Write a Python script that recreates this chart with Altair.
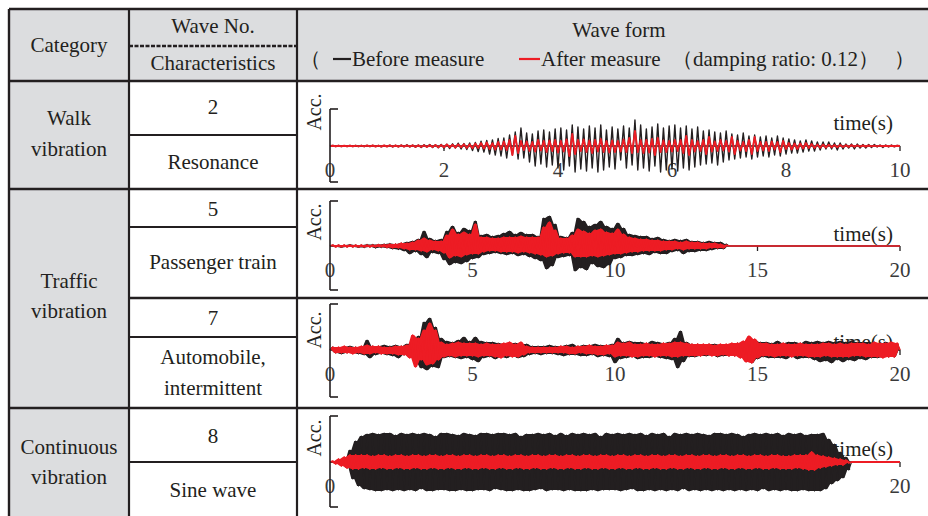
import altair as alt
import pandas as pd

# ---------------- data ----------------
header_texts = ["Category", "Wave No.", "Characteristics", "Wave form"]
legend_parts = ["（", "Before measure", "After measure", "（damping ratio: 0.12）", "）"]
series_names = ["Before measure", "After measure"]
categories = [["Walk", "vibration"], ["Traffic", "vibration"], ["Continuous", "vibration"]]
wave_numbers = ["2", "5", "7", "8"]
characteristics = [["Resonance"], ["Passenger train"], ["Automobile,", "intermittent"], ["Sine wave"]]
axis_label = "Acc."
time_label = "time(s)"

walk_ticks = [0, 2, 4, 6, 8, 10]
train_ticks = [0, 5, 10, 15, 20]
auto_ticks = [0, 5, 10, 15, 20]
sine_ticks = [0, 20]

# wave 2 (walk), samples every 0.05 s, 0-10 s (relative acceleration)
walk_dt = 0.05
walk_black = [
    0, 0.5, -0.5, 0.5, -0.6, 0.4, -0.5, 0.6, -0.5, 0.5,
    -0.6, 0.5, -0.7, 0.6, -0.5, 0.7, -0.6, 0.5, -0.8, 0.6,
    -0.7, 0.8, -1.0, 0.7, -0.9, 1.0, -0.8, 1.2, -1.0, 0.9,
    -1.2, 1.0, -1.4, 1.3, -1.1, 1.5, -1.6, 1.2, -1.8, 1.6,
    -2.0, 1.8, -2.5, 2.2, -2.0, 2.8, -3.0, 2.5, -3.5, 3.0,
    -4.5, 3.5, -5.5, 4.8, -6.0, 5.5, -8.0, 6.0, -9.0, 7.5,
    -10, 8, -12, 11, -9, 14, -13, 18, -12, 13,
    -16, 12, -20, 15, -18, 16, -21, 14, -19, 17,
    -22, 18, -24, 16, -20, 21, -26, 19, -23, 17,
    -25, 20, -22, 18, -26, 21, -24, 16, -21, 19,
    -23, 17, -14, 20, -22, 18, -19, 26, -24, 21,
    -22, 17, -25, 19, -20, 22, -26, 18, -24, 20,
    -23, 21, -25, 18, -22, 20, -24, 17, -21, 19,
    -19, 15, -18, 16, -17, 14, -19, 13, -16, 15,
    -14, 12, -13, 11, -12, 13, -11, 10, -13, 11,
    -11, 9, -10, 10, -11, 8, -9, 10, -10, 8,
    -8, 7, -7, 6, -7, 5, -6, 6, -5, 5,
    -5, 4, -4, 4, -3, 4, -3, 3, -4, 3,
    -3, 2, -2, 2, -3, 2, -2, 1.5, -2, 1.5,
    -1.5, 1.5, -1, 1, -1.5, 1, -1, 1, -0.8, 0.5,
    0,
]
walk_red = [
    0, 0.3, -0.3, 0.3, -0.3, 0.3, -0.3, 0.3, -0.3, 0.3,
    -0.4, 0.4, -0.4, 0.5, -0.4, 0.5, -0.5, 0.4, -0.5, 0.5,
    -0.5, 0.6, -0.6, 0.5, -0.7, 0.6, -0.6, 0.7, -0.6, 0.7,
    -0.8, 0.7, -0.9, 0.8, -1.0, 0.9, -1.0, 1.0, -1.2, 1.0,
    -1.2, 1.5, -1.3, 1.2, -1.5, 1.6, -1.4, 1.8, -2.0, 1.6,
    -2.2, 2.5, -2.0, 3.0, -2.6, 3.5, -3.0, 2.8, -3.5, 4.0,
    -3.5, 4.5, -4.0, 6.0, -9.0, 10, -7.0, 5.0, -4.0, 4.5,
    -5.0, 4.0, -5.5, 6.0, -4.5, 5.0, -6.0, 5.5, -5.0, 6.0,
    -6.5, 5.0, -5.5, 6.5, -10, 12, -8.0, 6.0, -5.0, 6.5,
    -6.0, 5.5, -7.0, 6.0, -5.5, 7.0, -6.0, 5.0, -6.5, 5.5,
    -6.0, 5.0, -5.5, 6.5, -6.0, 8.0, -7.0, 15, -6.0, 6.0,
    -7.0, 6.0, -6.5, 7.0, -9.0, 8.0, -6.0, 5.5, -6.0, 5.0,
    -5.5, 6.0, -5.0, 6.0, -7.0, 10, -9.0, 6.0, -5.5, 5.0,
    -5.0, 6.0, -8.0, 9.0, -5.5, 4.5, -5.0, 6.0, -4.5, 5.0,
    -5.5, 9.0, -8.0, 5.0, -4.5, 4.0, -5.0, 6.0, -8.0, 9.0,
    -5.0, 4.0, -4.5, 4.0, -5.0, 4.5, -3.5, 4.0, -6.0, 5.0,
    -3.0, 3.0, -3.5, 2.5, -3.0, 2.5, -2.5, 3.0, -2.0, 2.0,
    -2.0, 1.5, -1.8, 1.5, -1.5, 1.2, -1.3, 1.0, -1.2, 1.0,
    -1.0, 0.8, -0.8, 0.8, -0.7, 0.6, -0.6, 0.5, -0.5, 0.5,
    -0.4, 0.4, -0.4, 0.3, -0.3, 0.3, -0.3, 0.2, -0.2, 0.2,
    0,
]

# wave 5 (passenger train), samples every 0.1 s, 0-14 s
train_dt = 0.1
train_black = [
    0, 1, -1, 1, -1.5, 1, -1, 1.5, -1, 1,
    -1.5, 1, -1.5, 1.5, -1, 1.5, -2, 1.5, -1.5, 2,
    -2, 2.5, -3, 2, -3.5, 3, -5, 4, -8, 5,
    -6, 7, -9, 15, -12, 8, -7, 6, -8, 7,
    -14, 15, -19, 20, -17, 14, -18, 18, -16, 16,
    -13, 25, -12, 11, -9, 12, -8, 10, -7, 11,
    -8, 13, -9, 15, -8, 12, -10, 14, -9, 12,
    -11, 12, -13, 10, -15, 28, -23, 30, -20, 22,
    -12, 10, -11, 9, -10, 14, -25, 28, -22, 25,
    -24, 20, -18, 22, -21, 25, -22, 20, -19, 18,
    -13, 23, -12, 18, -10, 12, -10, 11, -9, 10,
    -8, 10, -9, 8, -7, 9, -8, 7, -8, 6,
    -6, 7, -5, 6, -8, 7, -6, 5, -6, 5,
    -5, 4, -5, 5, -4, 4, -3, 4, -3, 2,
    0,
]
train_red = [
    0, 1, -1, 1, -1, 1, -1, 1, -1, 1,
    -1, 1, -1, 1, -1, 1, -1, 1.5, -1, 1.5,
    -1.5, 2, -2, 2, -2, 3, -3, 3, -4, 4,
    -4, 6, -5, 8, -6, 6, -4, 5, -5, 5,
    -7, 11, -12, 17, -10, 12, -11, 14, -9, 12,
    -8, 22, -8, 9, -6, 9, -5, 8, -5, 8,
    -6, 9, -6, 9, -6, 9, -7, 10, -6, 9,
    -7, 9, -8, 9, -9, 19, -11, 24, -10, 16,
    -8, 8, -7, 8, -7, 11, -11, 17, -11, 15,
    -11, 13, -10, 16, -11, 17, -10, 14, -9, 13,
    -8, 17, -8, 12, -7, 9, -6, 8, -6, 7,
    -5, 7, -5, 6, -5, 6, -5, 5, -4, 5,
    -4, 5, -3, 4, -4, 5, -3, 4, -3, 4,
    -3, 3, -3, 3, -2, 3, -2, 2, -2, 1,
    0,
]

# wave 7 (automobile, intermittent), samples every 0.1 s, 0-20 s
auto_dt = 0.1
auto_black = [
    0, 3, -3, 2, -4, 3, -3, 4, -3, 3,
    -4, 3, -5, 10, -8, 4, -5, 4, -4, 5,
    -5, 4, -6, 5, -8, 4, -5, 6, -7, 8,
    -12, 14, -18, 28, -20, 32, -17, 23, -18, 12,
    -8, 9, -7, 8, -8, 10, -9, 13, -8, 9,
    -10, 13, -12, 9, -8, 8, -7, 8, -9, 7,
    -7, 6, -8, 7, -6, 7, -8, 6, -7, 6,
    -5, 4, -4, 4, -5, 4, -4, 5, -4, 4,
    -5, 4, -6, 5, -5, 6, -5, 4, -6, 5,
    -6, 5, -5, 6, -7, 5, -6, 5, -7, 6,
    -13, 12, -9, 8, -8, 9, -7, 8, -9, 8,
    -8, 7, -8, 9, -7, 8, -8, 7, -9, 8,
    -10, 12, -18, 19, -12, 8, -7, 6, -7, 6,
    -6, 5, -6, 6, -5, 6, -7, 5, -6, 5,
    -6, 5, -6, 7, -6, 8, -9, 12, -13, 10,
    -9, 8, -7, 8, -8, 7, -8, 9, -8, 7,
    -9, 8, -7, 8, -9, 7, -8, 9, -8, 8,
    -10, 9, -12, 8, -11, 9, -13, 8, -10, 9,
    -12, 8, -10, 9, -11, 8, -9, 8, -10, 8,
    -8, 7, -8, 6, -7, 8, -7, 6, -7, 6,
    0,
]
auto_red = [
    0, 3, -3, 3, -3, 4, -3, 3, -4, 3,
    -3, 4, -4, 5, -4, 4, -3, 4, -4, 3,
    -4, 3, -4, 4, -5, 4, -5, 5, -8, 15,
    -17, 12, -10, 20, -15, 27, -14, 20, -10, 8,
    -7, 6, -6, 7, -7, 8, -6, 7, -6, 7,
    -6, 7, -7, 6, -6, 7, -6, 6, -7, 6,
    -8, 7, -6, 8, -7, 6, -7, 8, -5, 4,
    -3, 3, -3, 3, -3, 3, -3, 3, -3, 3,
    -3, 4, -3, 4, -4, 3, -4, 4, -3, 4,
    -4, 5, -4, 4, -5, 4, -5, 5, -4, 5,
    -7, 8, -6, 7, -6, 8, -7, 6, -7, 6,
    -6, 7, -6, 6, -7, 6, -6, 7, -6, 7,
    -7, 8, -7, 8, -6, 7, -6, 6, -6, 6,
    -6, 6, -5, 6, -6, 5, -6, 6, -5, 6,
    -6, 7, -6, 7, -8, 9, -12, 14, -13, 11,
    -8, 7, -6, 7, -6, 6, -7, 6, -6, 7,
    -6, 6, -7, 6, -6, 7, -6, 6, -7, 6,
    -7, 6, -7, 7, -6, 7, -7, 6, -7, 7,
    -7, 6, -7, 7, -6, 7, -6, 7, -7, 6,
    -7, 8, -7, 7, -8, 7, -7, 8, -7, 7,
    0,
]

# wave 8 (sine wave), samples every 0.1 s, 0-18.3 s
sine_dt = 0.1
sine_black = [
    0, 0, 0, 0, 0, 2, -6, 12, -17, 21,
    -24, 26, -27, 28, -28, 29, -29, 28, -29, 29,
    -28, 29, -29, 27, -28, 29, -29, 28, -28, 29,
    -29, 28, -27, 29, -29, 28, -29, 26, -28, 29,
    -28, 29, -29, 28, -29, 27, -28, 29, -29, 28,
    -29, 27, -28, 29, -28, 29, -29, 28, -27, 29,
    -28, 29, -29, 28, -29, 29, -28, 26, -29, 28,
    -29, 28, -28, 29, -27, 28, -29, 29, -28, 27,
    -28, 29, -29, 27, -28, 29, -29, 28, -29, 29,
    -29, 28, -28, 29, -29, 26, -28, 29, -28, 28,
    -28, 29, -29, 28, -28, 29, -27, 28, -29, 29,
    -29, 27, -28, 29, -29, 28, -28, 29, -29, 26,
    -28, 29, -29, 28, -27, 29, -29, 28, -28, 29,
    -29, 28, -28, 27, -29, 29, -28, 29, -29, 28,
    -28, 29, -29, 28, -28, 26, -29, 28, -28, 29,
    -29, 28, -27, 29, -29, 28, -28, 29, -29, 27,
    -28, 29, -29, 28, -29, 29, -28, 27, -29, 28,
    -29, 28, -29, 29, -27, 23, -22, 18, -19, 10,
    -16, 5, -8, 0,
]
sine_red = [
    0, 1, -2, 3, -4, 5, -6, 7, -7, 7,
    -7, 7, -6, 7, -7, 6, -7, 7, -6, 7,
    -7, 6, -7, 7, -6, 7, -7, 6, -7, 7,
    -6, 7, -7, 6, -7, 7, -6, 7, -7, 6,
    -7, 7, -6, 7, -7, 6, -7, 7, -6, 7,
    -7, 6, -7, 7, -6, 7, -7, 6, -7, 7,
    -6, 7, -7, 6, -7, 7, -6, 7, -7, 6,
    -7, 7, -6, 7, -7, 6, -7, 7, -6, 7,
    -7, 6, -7, 7, -6, 7, -7, 6, -7, 7,
    -6, 7, -7, 6, -7, 7, -6, 7, -7, 6,
    -7, 7, -6, 7, -7, 6, -7, 7, -6, 7,
    -7, 6, -7, 7, -6, 7, -7, 6, -7, 7,
    -6, 7, -7, 6, -7, 7, -6, 7, -7, 6,
    -7, 7, -6, 7, -7, 6, -7, 7, -6, 7,
    -7, 6, -7, 7, -6, 7, -7, 6, -7, 7,
    -6, 7, -7, 6, -7, 7, -6, 7, -7, 6,
    -7, 6, -7, 7, -6, 7, -7, 7, -8, 10,
    -8, 7, -6, 6, -5, 5, -4, 4, -3, 3,
    -3, 2, -1, 0,
]

# ---------------- layout / style ----------------
W, H = 928, 516
BLACK = "#231f20"
RED = "#ed1c24"
GRAY = "#dcdddf"
TICKGRAY = "#3a3a3a"
SERIF = "Liberation Serif"
FS = 21

XL, XC1, XC2, XR = 9, 129, 297, 928
YT, YH, YB = 9, 81, 516
row_bottoms = [189, 298, 408]
inner_lines = [135, 227, 337, 462]
col1_x = (XL + XC1) / 2
col2_x = (XC1 + XC2) / 2
header_pos = [(col1_x, 52), (col2_x, 33), (col2_x, 70), (619, 37)]
cat_baselines = [[125, 156], [288, 318], [454, 484]]
no_baselines = [114, 216, 325, 443]
char_baselines = [[169], [269], [364, 395], [497]]
legend_x = [300, 352, 541, 672, 894]
legend_y = 66
dash_segments = [(333, 351), (519, 540)]
dash_y = 59
WX0, WX1 = 330, 900
panel_zero = [146, 246, 350, 462]
panel_bracket = [(-36, 37), (-44, 45), (-47, 46), (-45, 46)]
acc_y = [112, 222, 330, 438]
time_y = [130, 241, 349, 456]

cxs = alt.Scale(domain=[0, W], range=[0, W], nice=False, zero=False)
cys = alt.Scale(domain=[0, H], range=[0, H], nice=False, zero=False)


def CX(f):
    return alt.X(f, type="quantitative", scale=cxs, axis=None)


def CY(f):
    return alt.Y(f, type="quantitative", scale=cys, axis=None)


# gray fills
rects = pd.DataFrame([
    {"x": XL, "x2": XR, "y": YT, "y2": YH},
    {"x": XL, "x2": XC1, "y": YH, "y2": YB},
])
rect_layer = alt.Chart(rects).mark_rect(color=GRAY).encode(
    x=CX("x"), x2="x2", y=CY("y"), y2="y2")

# grid lines
rl = []
for y in [YT, YH, row_bottoms[0], row_bottoms[2]]:
    rl.append({"x": XL, "x2": XR, "y": y, "y2": y, "w": 2.6})
rl.append({"x": XC1, "x2": XR, "y": row_bottoms[1], "y2": row_bottoms[1], "w": 2.6})
rl.append({"x": XL, "x2": XL, "y": YT, "y2": YB, "w": 2.4})
rl.append({"x": XC1, "x2": XC1, "y": YT, "y2": YB, "w": 2.2})
rl.append({"x": XC2, "x2": XC2, "y": YT, "y2": YB, "w": 2.2})
for y in inner_lines:
    rl.append({"x": XC1, "x2": XC2, "y": y, "y2": y, "w": 2.0})
rule_layer = alt.Chart(pd.DataFrame(rl)).mark_rule(color=BLACK).encode(
    x=CX("x"), x2="x2", y=CY("y"), y2="y2",
    strokeWidth=alt.StrokeWidth("w:Q", scale=None))
dash_layer = alt.Chart(pd.DataFrame([{"x": XC1, "x2": XC2, "y": 46, "y2": 46}])).mark_rule(
    color=BLACK, strokeWidth=2.4, strokeDash=[4, 1.5]).encode(
    x=CX("x"), x2="x2", y=CY("y"), y2="y2")

# centered texts
ct = []
for s, (x, y) in zip(header_texts, header_pos):
    ct.append({"x": x, "y": y, "t": s})
for lines, ys in zip(categories, cat_baselines):
    for s, y in zip(lines, ys):
        ct.append({"x": col1_x, "y": y, "t": s})
for s, y in zip(wave_numbers, no_baselines):
    ct.append({"x": col2_x, "y": y, "t": s})
for lines, ys in zip(characteristics, char_baselines):
    for s, y in zip(lines, ys):
        ct.append({"x": col2_x, "y": y, "t": s})
center_text = alt.Chart(pd.DataFrame(ct)).mark_text(
    font=SERIF, fontSize=FS, color=BLACK, align="center", baseline="alphabetic").encode(
    x=CX("x"), y=CY("y"), text="t:N")

lg = pd.DataFrame({"x": legend_x, "y": [legend_y] * len(legend_parts), "t": legend_parts})
legend_text = alt.Chart(lg).mark_text(
    font=SERIF, fontSize=FS, color=BLACK, align="left", baseline="alphabetic").encode(
    x=CX("x"), y=CY("y"), text="t:N")
dash_df = pd.DataFrame({"x": [a for a, b in dash_segments], "x2": [b for a, b in dash_segments],
                        "y": [dash_y] * 2, "s": series_names})
legend_dash = alt.Chart(dash_df).mark_rule(strokeWidth=2.2).encode(
    x=CX("x"), x2="x2", y=CY("y"),
    color=alt.Color("s:N", scale=alt.Scale(domain=series_names, range=[BLACK, RED]), legend=None))

time_text = alt.Chart(pd.DataFrame({"x": [893] * 4, "y": time_y, "t": [time_label] * 4})).mark_text(
    font=SERIF, fontSize=FS, color=BLACK, align="right", baseline="alphabetic").encode(
    x=CX("x"), y=CY("y"), text="t:N")
acc_text = alt.Chart(pd.DataFrame({"x": [321] * 4, "y": acc_y, "t": [axis_label] * 4})).mark_text(
    font=SERIF, fontSize=20, color=BLACK, align="center", baseline="alphabetic", angle=270).encode(
    x=CX("x"), y=CY("y"), text="t:N")


def band(values, dt):
    """Region swept by the oscillation: span of each pair of neighbouring samples."""
    rows = []
    for i in range(len(values) - 1):
        a, b = values[i], values[i + 1]
        rows.append({"t": (i + 0.5) * dt, "hi": max(a, b), "lo": min(a, b)})
    return pd.DataFrame(rows)


def build_panel(T, dt, zero, ticks, black, red, red_end, bracket, dense, bw, rw):
    xs = alt.Scale(domain=[0, T], range=[WX0, WX1], nice=False, zero=False)
    ys = alt.Scale(domain=[-50, 50], range=[zero + 50, zero - 50], nice=False, zero=False)

    def PX(f):
        return alt.X(f, type="quantitative", scale=xs, axis=None)

    def PY(f):
        return alt.Y(f, type="quantitative", scale=ys, axis=None)

    layers = []
    layers.append(alt.Chart(pd.DataFrame({"t": [0], "t2": [T], "z": [0]})).mark_rule(
        color=BLACK, strokeWidth=1.3).encode(x=PX("t"), x2="t2", y=PY("z")))
    tk = pd.DataFrame({"t": ticks, "z": [0] * len(ticks), "lab": [str(v) for v in ticks]})
    layers.append(alt.Chart(tk[tk.t > 0]).mark_rule(
        color=BLACK, strokeWidth=1.3, y2Offset=5).encode(x=PX("t"), y=PY("z"), y2="z"))
    layers.append(alt.Chart(tk).mark_text(
        font=SERIF, fontSize=FS, color=TICKGRAY, align="center", baseline="alphabetic", dy=31).encode(
        x=PX("t"), y=PY("z"), text="lab:N"))

    bdf = pd.DataFrame({"t": [i * dt for i in range(len(black))], "v": black})
    rt = [i * dt for i in range(len(red))]
    rv = list(red)
    if red_end is not None:
        rt.append(red_end)
        rv.append(0)
    rdf = pd.DataFrame({"t": rt, "v": rv})

    if dense:
        layers.append(alt.Chart(band(black, dt)).mark_area(color=BLACK, interpolate="linear").encode(
            x=PX("t"), y=PY("hi"), y2="lo"))
    layers.append(alt.Chart(bdf).mark_line(
        color=BLACK, strokeWidth=bw, strokeJoin="round").encode(x=PX("t"), y=PY("v")))
    if dense:
        layers.append(alt.Chart(band(red, dt)).mark_area(color=RED, interpolate="linear").encode(
            x=PX("t"), y=PY("hi"), y2="lo"))
    layers.append(alt.Chart(rdf).mark_line(
        color=RED, strokeWidth=rw, strokeJoin="round").encode(x=PX("t"), y=PY("v")))

    layers.append(alt.Chart(pd.DataFrame({"t": [0], "lo": [bracket[0]], "hi": [bracket[1]]})).mark_rule(
        color=BLACK, strokeWidth=1.6).encode(x=PX("t"), y=PY("lo"), y2="hi"))
    layers.append(alt.Chart(pd.DataFrame({"t": [0, 0], "y": list(bracket)})).mark_rule(
        color=BLACK, strokeWidth=1.6, x2Offset=8).encode(x=PX("t"), x2="t", y=PY("y")))
    return alt.layer(*layers)


panels = [
    build_panel(10, walk_dt, panel_zero[0], walk_ticks, walk_black, walk_red, None,
                panel_bracket[0], False, 1.4, 1.9),
    build_panel(20, train_dt, panel_zero[1], train_ticks, train_black, train_red, 20,
                panel_bracket[1], True, 1.2, 1.6),
    build_panel(20, auto_dt, panel_zero[2], auto_ticks, auto_black, auto_red, None,
                panel_bracket[2], True, 1.2, 1.6),
    build_panel(20, sine_dt, panel_zero[3], sine_ticks, sine_black, sine_red, 20,
                panel_bracket[3], True, 1.2, 1.8),
]

chart = alt.layer(
    rect_layer, rule_layer, dash_layer, center_text, legend_text, legend_dash, time_text, acc_text, *panels
).resolve_scale(x="independent", y="independent", color="independent").properties(
    width=W, height=H, padding=0, autosize=alt.AutoSizeParams(type="none"),
    background="white"
).configure_view(strokeWidth=0)

chart.save("out.html", embed_options={"renderer": "svg", "actions": False})
